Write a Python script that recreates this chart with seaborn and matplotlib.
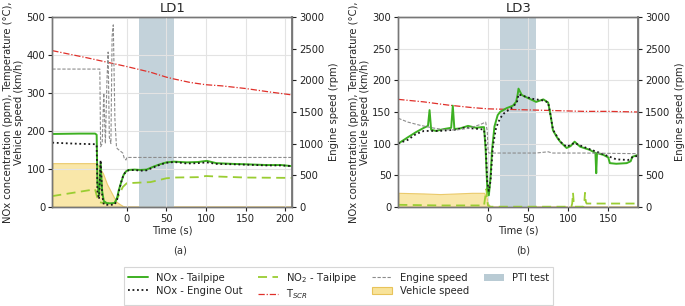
import numpy as np
import pandas as pd
import seaborn as sns
import matplotlib
matplotlib.use("Agg")
import matplotlib.pyplot as plt
from matplotlib.lines import Line2D
from matplotlib.patches import Patch

# ---------------- LD1 data ----------------
ld1_t_nox = [-94, -60, -40, -38, -37, -35, -33, -31, -29, -25, -20, -15, -12, -10, -7, -4, -1, 2, 10, 17, 25, 34, 42, 50, 60, 76, 90, 101, 113, 134, 150, 176, 195, 209]
ld1_nox_tp = [192, 193, 193, 190, 60, 30, 115, 40, 15, 9, 9, 10, 25, 44, 65, 84, 93, 97, 98, 97, 98, 106, 112, 117, 119, 117, 118, 121, 115, 113, 112, 110, 110, 107]
ld1_nox_eo = [169, 166, 165, 163, 40, 20, 123, 30, 6, 5, 5, 6, 20, 40, 65, 85, 92, 96, 97, 95, 96, 104, 111, 116, 118, 114, 115, 117, 113, 112, 111, 109, 109, 107]

ld1_t_no2 = [-94, -40, -38, -35, -30, -20, -15, -10, -5, 0, 10, 30, 40, 50, 60, 90, 100, 110, 150, 209]
ld1_no2 = [28, 46, 30, 12, 10, 9, 12, 30, 52, 62, 63, 65, 70, 75, 77, 78, 81, 80, 77, 76]

ld1_t_vs = [-94, -38, -35, -30, -25, -21, -17, -13, -9, -5, -3, 0, 209]
ld1_vs = [115, 115, 105, 88, 60, 44, 28, 13, 7, 2, 0, 0, 0]

ld1_t_rpm = [-94, -34, -33, -31, -29, -27, -25, -23.5, -22, -20, -18.5, -17, -15, -13, -12, -5, -3, -1, 0, 209]
ld1_rpm = [2180, 2180, 950, 1000, 1800, 1000, 2000, 2450, 1100, 1000, 2700, 2880, 1400, 950, 920, 850, 760, 740, 780, 780]

ld1_t_tscr = [-94, -50, 0, 30, 50, 60, 80, 100, 120, 150, 180, 209]
ld1_tscr = [412, 393, 370, 355, 342, 337, 328, 322, 319, 312, 303, 295]

# ---------------- LD3 data ----------------
ld3_t_tp = [-112, -100, -90, -80, -75, -73, -71, -65, -55, -46, -44, -42, -35, -25, -15, -8, -5, -3, -1, 1, 3, 5, 8, 12, 15, 23, 31, 35, 37, 38, 42, 50, 60, 69, 75, 78, 81, 86, 90, 98, 103, 108, 115, 127, 134, 135, 136, 144, 150, 152, 160, 173, 178, 180, 187]
ld3_nox_tp = [100, 110, 118, 125, 128, 153, 122, 120, 123, 125, 160, 123, 124, 128, 125, 126, 126, 90, 30, 18, 45, 90, 127, 145, 150, 156, 160, 166, 178, 187, 177, 172, 166, 170, 165, 145, 121, 110, 103, 93, 96, 103, 95, 90, 85, 53, 85, 82, 78, 69, 68, 69, 72, 79, 82]

ld3_t_eo = [-112, -100, -90, -80, -70, -60, -50, -40, -30, -20, -10, -5, -3, -1, 1, 3, 6, 10, 15, 20, 30, 36, 38, 45, 55, 70, 75, 78, 81, 90, 98, 103, 108, 115, 127, 140, 150, 160, 175, 182, 187]
ld3_nox_eo = [100, 106, 115, 120, 120, 120, 121, 122, 125, 124, 123, 122, 100, 40, 25, 40, 95, 125, 140, 148, 157, 165, 178, 175, 171, 168, 165, 145, 122, 103, 95, 98, 101, 97, 91, 85, 80, 75, 74, 80, 80]

ld3_t_no2 = [-112, -60, -5, -3, -2, -1, 0, 2, 70, 104, 105, 106, 107, 108, 119, 120, 121, 122, 123, 125, 187]
ld3_no2 = [3, 2, 2, 20, 28, 10, 2, 0, 0, 0, 5, 22, 5, 0, 0, 5, 22, 8, 5, 5, 5]

ld3_t_vs = [-112, -80, -60, -40, -20, -5, -2, 0, 3, 187]
ld3_vs = [22, 21, 20, 21, 22, 22, 15, 5, 0, 0]

ld3_t_rpm = [-112, -100, -85, -70, -55, -40, -25, -10, -3, -1, 0, 1, 30, 60, 75, 80, 120, 187]
ld3_rpm = [1400, 1340, 1290, 1250, 1220, 1215, 1240, 1300, 1340, 1200, 900, 850, 850, 850, 870, 850, 850, 840]

ld3_t_tscr = [-112, -80, -50, -20, 0, 30, 60, 90, 120, 150, 187]
ld3_tscr = [170, 166, 161, 157, 155, 154, 153, 152, 151, 151, 150]

pti_window = [15, 60]

# ---------------- style ----------------
sns.set_theme(style="whitegrid")
plt.rcParams['font.family'] = ['DejaVu Sans']

FS = 7.2
C_TP = '#3db022'
C_EO = '#1a1a1a'
C_NO2 = '#9acd32'
C_TSCR = '#e0302a'
C_RPM = '#8c8c8c'
C_VS = '#f8e39a'
C_VS_EDGE = '#e8c35a'
C_PTI = '#b9cbd4'

fig = plt.figure(figsize=(6.85, 3.06), dpi=100)
W, H = 685, 306


def add_axes(x0, x1, y0=17.3, y1=206.7):
    return fig.add_axes([x0 / W, 1 - y1 / H, (x1 - x0) / W, (y1 - y0) / H])


def draw(ax, data, xlim, ylim, title, xticks, yticks):
    (t_tp, tp, t_eo, eo, t_no2, no2, t_vs, vs, t_rpm, rpm, t_ts, ts) = data
    ax.fill_between(t_vs, vs, 0, color=C_VS, alpha=0.85, edgecolor=C_VS_EDGE, linewidth=0.8, zorder=1)
    ax.axvspan(pti_window[0], pti_window[1], color=C_PTI, alpha=0.85, zorder=1.5, linewidth=0)
    sns.lineplot(x=t_ts, y=ts, ax=ax, color=C_TSCR, linestyle=(0, (5, 1.5, 1, 1.5)), linewidth=0.9, zorder=3)
    sns.lineplot(x=t_no2, y=no2, ax=ax, color=C_NO2, linestyle=(0, (5, 3)), linewidth=1.3, zorder=3)
    sns.lineplot(x=t_tp, y=tp, ax=ax, color=C_TP, linestyle='-', linewidth=1.4, zorder=4)
    sns.lineplot(x=t_eo, y=eo, ax=ax, color=C_EO, linestyle=(0, (1, 1.5)), linewidth=1.3, zorder=5)
    ax.set_xlim(*xlim)
    ax.set_ylim(*ylim)
    ax.set_xticks(xticks)
    ax.set_yticks(yticks)
    ax.set_title(title, fontsize=9.5, pad=4)
    ax.set_xlabel('Time (s)', fontsize=FS, labelpad=1)
    ax.set_ylabel('NOx concentration (ppm), Temperature (°C),\nVehicle speed (km/h)', fontsize=FS,
                  labelpad=2, linespacing=1.05)
    ax.tick_params(axis='both', labelsize=FS, length=3, width=0.8, pad=2, colors='#222222',
                   left=True, bottom=True)
    ax.grid(True, color='#e3e3e3', linewidth=0.8, zorder=2)
    ax.set_axisbelow(False)
    for s in ax.spines.values():
        s.set_color('#777777')
        s.set_linewidth(1.0)
    ax.set_zorder(1)

    ax2 = ax.twinx()
    sns.lineplot(x=t_rpm, y=rpm, ax=ax2, color=C_RPM, linestyle=(0, (3, 1.5)), linewidth=0.8)
    ax2.set_ylim(0, 3000)
    ax2.set_yticks([0, 500, 1000, 1500, 2000, 2500, 3000])
    ax2.grid(False)
    ax2.set_ylabel('Engine speed (rpm)', fontsize=FS, labelpad=3)
    ax2.tick_params(axis='y', labelsize=FS, length=3, width=0.8, pad=2, colors='#222222', right=True)
    for s in ax2.spines.values():
        s.set_color('#777777')
        s.set_linewidth(1.0)
    ax2.spines['right'].set_linewidth(1.3)
    ax2.set_zorder(2)
    ax2.patch.set_visible(False)
    return ax2


ax1 = add_axes(52.3, 292.3)
draw(ax1, (ld1_t_nox, ld1_nox_tp, ld1_t_nox, ld1_nox_eo, ld1_t_no2, ld1_no2, ld1_t_vs, ld1_vs,
           ld1_t_rpm, ld1_rpm, ld1_t_tscr, ld1_tscr),
     (-94, 209), (0, 500), 'LD1', [0, 50, 100, 150, 200], [0, 100, 200, 300, 400, 500])

ax3 = add_axes(398.3, 638.3)
draw(ax3, (ld3_t_tp, ld3_nox_tp, ld3_t_eo, ld3_nox_eo, ld3_t_no2, ld3_no2, ld3_t_vs, ld3_vs,
           ld3_t_rpm, ld3_rpm, ld3_t_tscr, ld3_tscr),
     (-112, 187.5), (0, 300), 'LD3', [0, 50, 100, 150], [0, 50, 100, 150, 200, 250, 300])

fig.text(180 / W, 1 - 250.5 / H, '(a)', fontsize=FS, ha='center', va='center', color='#333333')
fig.text(523 / W, 1 - 250.5 / H, '(b)', fontsize=FS, ha='center', va='center', color='#333333')

handles = [
    Line2D([], [], color=C_TP, linestyle='-', linewidth=1.4),
    Line2D([], [], color=C_EO, linestyle=(0, (1, 1.5)), linewidth=1.3),
    Line2D([], [], color=C_NO2, linestyle=(0, (5, 3)), linewidth=1.3),
    Line2D([], [], color=C_TSCR, linestyle=(0, (5, 1.5, 1, 1.5)), linewidth=0.9),
    Line2D([], [], color=C_RPM, linestyle=(0, (3, 1.5)), linewidth=0.8),
    Patch(facecolor=C_VS, edgecolor=C_VS_EDGE, linewidth=0.8),
    Patch(facecolor=C_PTI, edgecolor='none'),
]
labels = ['NOx - Tailpipe', 'NOx - Engine Out', 'NO$_2$ - Tailpipe', 'T$_{SCR}$',
          'Engine speed', 'Vehicle speed', 'PTI test']
leg = fig.legend(handles, labels, ncol=4, loc='center', bbox_to_anchor=(338.5 / W, 1 - 286 / H),
                 fontsize=FS, frameon=True, fancybox=False, edgecolor='#cccccc',
                 handlelength=2.0, columnspacing=1.5, handletextpad=0.8, borderpad=0.4,
                 labelspacing=0.3)
leg.get_frame().set_linewidth(0.8)

fig.savefig('out.png', dpi=100)
